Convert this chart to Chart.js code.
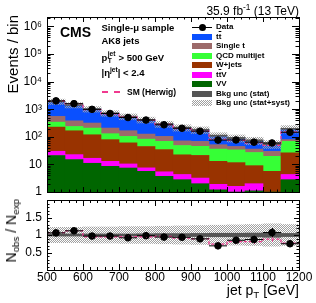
<!DOCTYPE html>
<html>
<head>
<meta charset="utf-8">
<script src="https://cdn.jsdelivr.net/npm/chart.js@4.4.1/dist/chart.umd.min.js"></script>
<style>
  html, body { margin: 0; padding: 0; background: #fff; }
  #wrap { position: relative; width: 316px; height: 303px; overflow: hidden;
          font-family: "Liberation Sans", Arial, Helvetica, sans-serif; color: #000; }
  canvas { position: absolute; left: 0; }
  #main { top: 0; }
  #ratio { top: 195px; }
  .t { position: absolute; white-space: nowrap; line-height: 1; }
  .rot { position: absolute; white-space: nowrap; line-height: 1; transform-origin: 0 0;
         transform: rotate(-90deg) translate(-100%, -50%); }
  .sup { font-size: 70%; position: relative; top: -0.55em; }
  .sub { font-size: 70%; position: relative; top: 0.3em; }
  .ov { text-decoration: overline; }
  .stk { position: relative; display: inline-block; width: 0.9em; height: 0; }
  .stk span { position: absolute; left: 0.05em; font-size: 70%; line-height: 1; }
  .stk .up { top: -1.55em; }
  .stk .dn { top: -0.45em; }
  .sw { position: absolute; }
</style>
</head>
<body>
<div id="wrap">
  <canvas id="main" width="316" height="200"></canvas>
  <canvas id="ratio" width="316" height="108"></canvas>
</div>
<script>
// bins: jet pT [GeV]
const binEdges = [500, 550, 600, 650, 700, 750, 800, 850, 900, 950, 1000, 1050, 1100, 1150, 1200];
const binCenters = [525, 575, 625, 675, 725, 775, 825, 875, 925, 975, 1025, 1075, 1125, 1175];

// stacked backgrounds, events / bin (bottom to top)
const vvEvents        = [21, 15, 11, 8.5, 7.4, 5.6, 3.7, 2.8, 2.0, 1.2, 0.8, 1.1, 0.3, 2.8];
const ttvEvents       = [9, 7.6, 5.7, 4.4, 3.0, 1.9, 1.7, 1.5, 1.2, 0.7, 0.8, 0.9, 0.6, 1.5];
const wjetsEvents     = [195, 143, 102, 66, 50, 37, 29, 18, 18, 11, 10, 7, 4.7, 22];
const qcdEvents       = [115, 71, 89, 51, 43, 38, 34, 26, 24, 23, 22, 18, 14, 42];
const singleTopEvents = [210, 143, 108, 78, 63, 43, 35, 23, 23, 16, 11, 9, 10, 11];
const ttbarEvents     = [1350, 1040, 700, 510, 380, 290, 190, 146, 112, 58, 46, 38, 26, 116];

const dataEvents   = [2010, 1590, 990, 700, 500, 405, 273, 204, 160, 76, 77, 64, 60, 146];
const dataErrors   = [45, 40, 31, 26, 22, 20, 17, 14, 13, 9, 9, 8, 8, 12];
const herwigEvents = [2030, 1590, 970, 685, 520, 395, 280, 198, 160, 81, 74, 60, 49, 150];

// relative background uncertainties
const statUnc  = [0.03, 0.03, 0.03, 0.03, 0.03, 0.035, 0.04, 0.04, 0.045, 0.05, 0.05, 0.055, 0.065, 0.045];
const totalUnc = [0.22, 0.22, 0.23, 0.23, 0.24, 0.24, 0.25, 0.26, 0.27, 0.28, 0.29, 0.30, 0.32, 0.30];

// ratio panel N_obs / N_exp
const ratioData      = [1.06, 1.12, 0.97, 0.97, 0.92, 0.98, 0.94, 0.935, 0.89, 0.69, 0.85, 0.87, 1.07, 0.75];
const ratioDataErr   = [0.03, 0.03, 0.04, 0.04, 0.05, 0.05, 0.06, 0.07, 0.08, 0.09, 0.10, 0.11, 0.13, 0.09];
const ratioHerwig    = [1.07, 1.12, 0.95, 0.95, 0.95, 0.95, 0.96, 0.91, 0.89, 0.74, 0.81, 0.81, 0.88, 0.77];
const ratioHerwigErr = [0.02, 0.02, 0.02, 0.03, 0.03, 0.03, 0.03, 0.04, 0.04, 0.06, 0.06, 0.07, 0.07, 0.05];

// tick labels
const xTickValues = [500, 600, 700, 800, 900, 1000, 1100, 1200];
const logDecades = [1, 10, 100, 1000, 10000, 100000, 1000000];
const logDecadeLabels = ['1', '10', '10²', '10³', '10⁴', '10⁵', '10⁶'];
const ratioTickValues = [0.5, 1, 1.5];
const ratioTickLabels = ['0.5', '1', '1.5'];

const colors = {
  ttbar: '#0a50ff', singleTop: '#9c6a6a', qcd: '#36ff36', wjets: '#993300',
  ttv: '#ff00ff', vv: '#006600', stat: '#555555', herwig: '#f0398f'
};
const FONT = '"Liberation Sans", Arial, Helvetica, sans-serif';

function stipple() {
  const c = document.createElement('canvas');
  c.width = 2; c.height = 2;
  const g = c.getContext('2d');
  g.fillStyle = '#a0a0a0';
  g.fillRect(0, 0, 1, 1);
  g.fillRect(1, 1, 1, 1);
  return g.createPattern(c, 'repeat');
}
const hatch = stipple();

const mcTotal = binCenters.map((_, i) =>
  vvEvents[i] + ttvEvents[i] + wjetsEvents[i] + qcdEvents[i] + singleTopEvents[i] + ttbarEvents[i]);

// inner tick marks on all four sides, ROOT style
function xTickList() {
  const out = [];
  for (let v = 500; v <= 1200; v += 20) out.push({ v, major: v % 100 === 0 });
  return out;
}
function logTickList(max) {
  const out = [];
  for (let d = 0; d <= 6; d++) {
    for (let k = 1; k <= 9; k++) {
      const v = k * Math.pow(10, d);
      if (v <= max) out.push({ v, major: k === 1 });
    }
  }
  return out;
}
function ratioTickList() {
  const out = [];
  for (let i = 0; i <= 20; i++) out.push({ v: i / 10, major: i % 5 === 0 });
  return out;
}

const rootFrame = {
  id: 'rootFrame',
  afterDatasetsDraw(chart, args, opts) {
    const { ctx, scales: { x, y } } = chart;
    (opts.errorBars || []).forEach(eb => {
      ctx.save();
      ctx.strokeStyle = eb.color;
      ctx.lineWidth = eb.width || 1;
      ctx.setLineDash(eb.dash || []);
      eb.centers.forEach((c, i) => {
        const v = eb.values[i], e = eb.errors[i];
        const px = Math.round(x.getPixelForValue(c)) + 0.5;
        const py = y.getPixelForValue(v);
        ctx.beginPath();
        if (eb.halfWidth) {
          ctx.moveTo(x.getPixelForValue(c - eb.halfWidth), py);
          ctx.lineTo(x.getPixelForValue(c + eb.halfWidth), py);
        }
        ctx.moveTo(px, y.getPixelForValue(v - e));
        ctx.lineTo(px, y.getPixelForValue(v + e));
        ctx.stroke();
      });
      ctx.restore();
    });
  },
  afterDraw(chart, args, opts) {
    const { ctx, chartArea: a, scales: { x, y } } = chart;
    ctx.save();
    ctx.strokeStyle = '#000';
    ctx.lineWidth = 1;
    ctx.beginPath();
    opts.xTicks.forEach(t => {
      const px = Math.round(x.getPixelForValue(t.v)) + 0.5;
      const len = t.major ? opts.xMajor : opts.xMajor / 2;
      ctx.moveTo(px, a.bottom); ctx.lineTo(px, a.bottom - len);
      ctx.moveTo(px, a.top); ctx.lineTo(px, a.top + len);
    });
    opts.yTicks.forEach(t => {
      const py = Math.round(y.getPixelForValue(t.v)) + 0.5;
      if (py < a.top || py > a.bottom + 1) return;
      const len = t.major ? opts.yMajor : opts.yMajor / 2;
      ctx.moveTo(a.left, py); ctx.lineTo(a.left + len, py);
      ctx.moveTo(a.right, py); ctx.lineTo(a.right - len, py);
    });
    ctx.stroke();
    ctx.strokeRect(a.left + 0.5, a.top + 0.5, a.right - a.left, a.bottom - a.top);
    ctx.restore();
  }
};

function fixAxisWidth(s) { s.width = 47; s.paddingTop = 0; s.paddingBottom = 0; }

const stackDs = (label, values, color) => ({
  type: 'bar', label, stack: 'mc', order: 10, grouped: false,
  data: binCenters.map((x, i) => ({ x, y: values[i] })),
  backgroundColor: color, borderWidth: 0, barPercentage: 1, categoryPercentage: 1
});

const mainMax = 2.2e6;
new Chart(document.getElementById('main'), {
  data: {
    datasets: [
      { type: 'line', label: 'Data', stack: 'data', order: 0,
        data: binCenters.map((x, i) => ({ x, y: dataEvents[i] })),
        showLine: false, pointRadius: 3.3, pointBackgroundColor: '#000', pointBorderColor: '#000' },
      { type: 'line', label: 'SM (Herwig)', stack: 'hw', order: 1,
        data: binEdges.map((x, i) => ({ x, y: herwigEvents[Math.min(i, herwigEvents.length - 1)] })),
        stepped: 'before', borderColor: colors.herwig, borderWidth: 1.3, borderDash: [3, 2],
        pointRadius: 0, fill: false },
      { type: 'bar', label: 'Bkg unc (stat)', stack: 'stat', order: 2, grouped: false,
        data: binCenters.map((x, i) => ({ x, y: [mcTotal[i] * (1 - statUnc[i]), mcTotal[i] * (1 + statUnc[i])] })),
        backgroundColor: colors.stat, borderWidth: 0, barPercentage: 1, categoryPercentage: 1 },
      { type: 'bar', label: 'Bkg unc (stat+syst)', stack: 'syst', order: 3, grouped: false,
        data: binCenters.map((x, i) => ({ x, y: [mcTotal[i] * (1 - totalUnc[i]), mcTotal[i] * (1 + totalUnc[i])] })),
        backgroundColor: hatch, borderWidth: 0, barPercentage: 1, categoryPercentage: 1 },
      stackDs('VV', vvEvents, colors.vv),
      stackDs('ttV', ttvEvents, colors.ttv),
      stackDs('W+jets', wjetsEvents, colors.wjets),
      stackDs('QCD multijet', qcdEvents, colors.qcd),
      stackDs('Single t', singleTopEvents, colors.singleTop),
      stackDs('tt', ttbarEvents, colors.ttbar)
    ]
  },
  options: {
    responsive: false,
    animation: false,
    layout: { padding: { top: 17, right: 17, bottom: 8, left: 0 } },
    plugins: {
      legend: { display: false },
      tooltip: { enabled: false },
      rootFrame: {
        xTicks: xTickList(), yTicks: logTickList(mainMax), xMajor: 5, yMajor: 7,
        errorBars: [{ centers: binCenters, values: dataEvents, errors: dataErrors, halfWidth: 25, color: '#000' }]
      }
    },
    scales: {
      x: { type: 'linear', min: 500, max: 1200, offset: false, display: false },
      y: {
        type: 'logarithmic', min: 1, max: mainMax, stacked: true,
        grid: { display: false, drawTicks: false }, border: { display: false },
        ticks: {
          autoSkip: false, padding: 5, color: '#000', font: { family: FONT, size: 12 },
          callback: v => {
            const i = logDecades.findIndex(d => Math.abs(v / d - 1) < 1e-6);
            return i >= 0 ? logDecadeLabels[i] : '';
          }
        },
        afterFit: fixAxisWidth
      }
    }
  },
  plugins: [rootFrame]
});

new Chart(document.getElementById('ratio'), {
  data: {
    datasets: [
      { type: 'line', label: 'Data', order: 0,
        data: binCenters.map((x, i) => ({ x, y: ratioData[i] })),
        showLine: false, pointRadius: 3.3, pointBackgroundColor: '#000', pointBorderColor: '#000' },
      { type: 'line', label: 'SM (Herwig)', order: 1,
        data: binEdges.map((x, i) => ({ x, y: ratioHerwig[Math.min(i, ratioHerwig.length - 1)] })),
        stepped: 'before', borderColor: colors.herwig, borderWidth: 1.3, borderDash: [3, 2],
        pointRadius: 0, fill: false },
      { type: 'bar', label: 'Bkg unc (stat)', order: 2, grouped: false,
        data: binCenters.map((x, i) => ({ x, y: [1 - statUnc[i], 1 + statUnc[i]] })),
        backgroundColor: colors.stat, borderWidth: 0, barPercentage: 1, categoryPercentage: 1 },
      { type: 'bar', label: 'Bkg unc (stat+syst)', order: 3, grouped: false,
        data: binCenters.map((x, i) => ({ x, y: [1 - totalUnc[i], 1 + totalUnc[i]] })),
        backgroundColor: hatch, borderWidth: 0, barPercentage: 1, categoryPercentage: 1 }
    ]
  },
  options: {
    responsive: false,
    animation: false,
    layout: { padding: { top: 3, right: 17, bottom: 0, left: 0 } },
    plugins: {
      legend: { display: false },
      tooltip: { enabled: false },
      rootFrame: {
        xTicks: xTickList(), yTicks: ratioTickList(), xMajor: 6, yMajor: 5,
        errorBars: [
          { centers: binCenters, values: ratioHerwig, errors: ratioHerwigErr, color: colors.herwig, dash: [2, 2] },
          { centers: binCenters, values: ratioData, errors: ratioDataErr, halfWidth: 25, color: '#000' }
        ]
      }
    },
    scales: {
      x: {
        type: 'linear', min: 500, max: 1200, offset: false,
        grid: { display: false, drawTicks: false }, border: { display: false },
        afterBuildTicks: s => { s.ticks = xTickValues.map(v => ({ value: v })); },
        ticks: { autoSkip: false, padding: 0, maxRotation: 0, color: '#000', font: { family: FONT, size: 12 },
                 callback: v => String(v) },
        afterFit: s => { s.height = 33; s.paddingLeft = 0; s.paddingRight = 0; }
      },
      y: {
        type: 'linear', min: 0, max: 2,
        grid: { display: false, drawTicks: false }, border: { display: false },
        afterBuildTicks: s => { s.ticks = ratioTickValues.map(v => ({ value: v })); },
        ticks: { autoSkip: false, padding: 5, color: '#000', font: { family: FONT, size: 12 },
                 callback: v => {
                   const i = ratioTickValues.findIndex(t => Math.abs(t - v) < 1e-6);
                   return i >= 0 ? ratioTickLabels[i] : '';
                 } },
        afterFit: fixAxisWidth
      }
    }
  },
  plugins: [rootFrame]
});

// ---- text overlays ----
const wrap = document.getElementById('wrap');
function addText(html, x, base, size, opts = {}) {
  const d = document.createElement('div');
  d.className = 't';
  d.innerHTML = html;
  d.style.fontSize = size + 'px';
  d.style.top = (base - 0.85 * size) + 'px';
  if (opts.right) d.style.right = (316 - x) + 'px'; else d.style.left = x + 'px';
  if (opts.bold) d.style.fontWeight = 'bold';
  if (opts.color) d.style.color = opts.color;
  wrap.appendChild(d);
  return d;
}
function addRot(html, xc, yTop, size) {
  const d = document.createElement('div');
  d.className = 'rot';
  d.innerHTML = html;
  d.style.fontSize = size + 'px';
  d.style.left = xc + 'px';
  d.style.top = yTop + 'px';
  wrap.appendChild(d);
}
function addBox(x, y, w, h, bg) {
  const d = document.createElement('div');
  d.className = 'sw';
  d.style.left = x + 'px'; d.style.top = y + 'px';
  d.style.width = w + 'px'; d.style.height = h + 'px';
  d.style.background = bg;
  wrap.appendChild(d);
  return d;
}

addText('35.9 fb<span class="sup">-1</span> (13 TeV)', 299, 15, 12, { right: true });
addText('CMS', 60, 37, 14, { bold: true });
addText('Single-μ sample', 101.5, 31, 9.5, { bold: true });
addText('AK8 jets', 101.5, 44, 9.5, { bold: true });
addText('p<span class="stk"><span class="up">jet</span><span class="dn">T</span></span> &gt; 500 GeV', 101.5, 61.5, 9.5, { bold: true });
addText('|η<span class="sup">jet</span>| &lt; 2.4', 101.5, 76, 9.5, { bold: true });

// SM (Herwig) entry
const hw = addBox(101.5, 91, 18.5, 0, 'none');
hw.style.borderTop = '2px dashed ' + colors.herwig;
addText('SM (Herwig)', 127, 95.5, 8.5, { bold: true });

// right legend
const legendEntries = [
  { html: 'Data', kind: 'data' },
  { html: 't<span class="ov">t</span>', bg: colors.ttbar },
  { html: 'Single t', bg: colors.singleTop },
  { html: 'QCD multijet', bg: colors.qcd },
  { html: 'W+jets', bg: colors.wjets },
  { html: 't<span class="ov">t</span>V', bg: colors.ttv },
  { html: 'VV', bg: colors.vv },
  { html: 'Bkg unc (stat)', bg: colors.stat },
  { html: 'Bkg unc (stat+syst)', bg: 'repeating-conic-gradient(#a0a0a0 0% 25%, #ffffff 0% 50%) 0 0 / 2px 2px' }
];
legendEntries.forEach((e, i) => {
  const base = 30 + i * 9.5;
  if (e.kind === 'data') {
    addBox(192, base - 3, 19.5, 1, '#000');
    const dot = addBox(198.5, base - 6, 7, 7, '#000');
    dot.style.borderRadius = '50%';
  } else {
    addBox(192, base - 6, 19.5, 6, e.bg);
  }
  addText(e.html, 216, base, 8, { bold: true });
});

// axis titles
addRot('Events / bin', 12, 15, 15);
addRot('N<span class="sub">obs</span> / N<span class="sub">exp</span>', 11, 199, 14);
addText('jet p<span class="sub">T</span> [GeV]', 299, 295, 14, { right: true });
</script>
</body>
</html>
